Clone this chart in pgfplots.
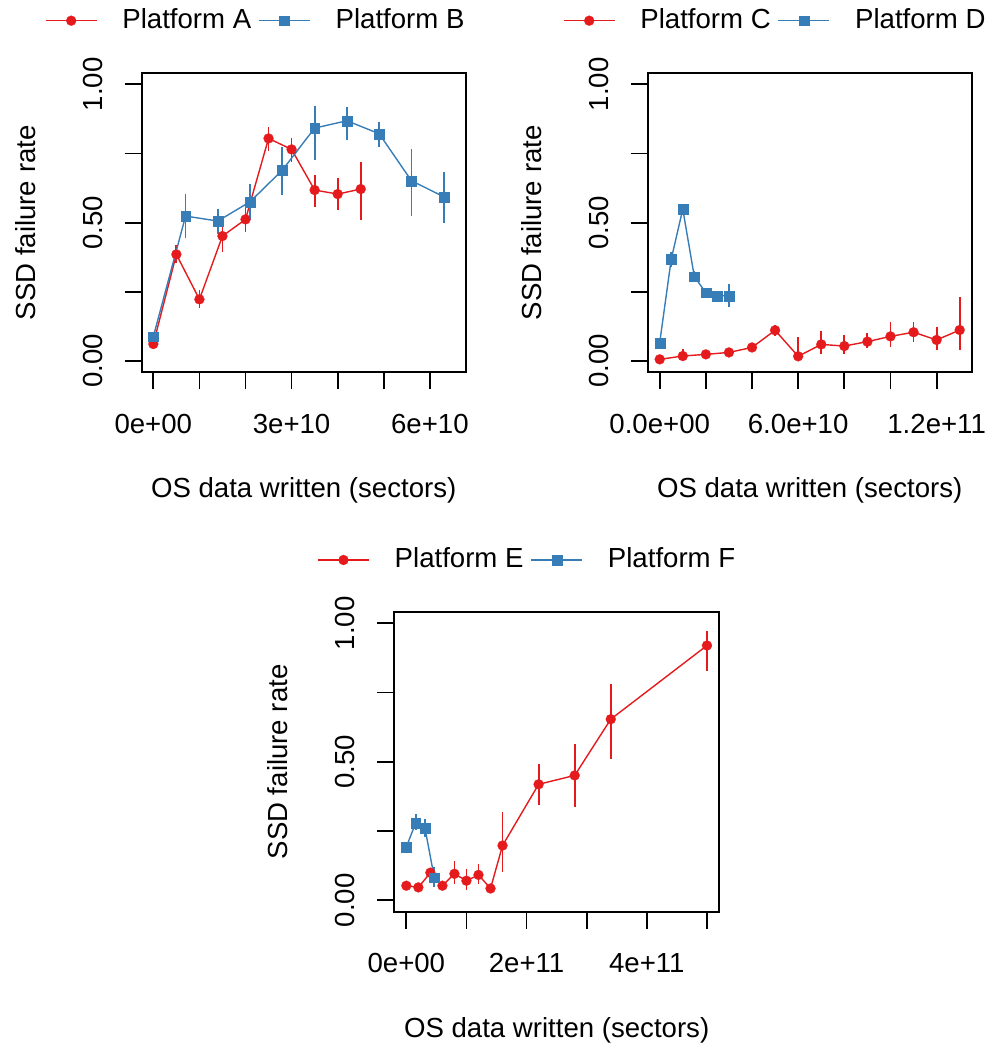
\documentclass[border=0pt]{standalone}
\usepackage{fontspec}
\setmainfont{Liberation Sans}
\usepackage{pgfplots}
\pgfplotsset{compat=1.18}
\definecolor{cred}{HTML}{E41A1C}
\definecolor{cblue}{HTML}{377EB8}
\pgfplotsset{
  rstyle/.style={
    scale only axis, width=162pt, height=149.5pt,
    anchor=south west,
    ymin=-0.0408, ymax=1.0398,
    scaled x ticks=false, scaled y ticks=false,
    ytick={0,0.25,0.5,0.75,1}, yticklabels={0.00,,0.50,,1.00},
    axis line style={line width=0.9pt},
    tick align=outside, xtick pos=left, ytick pos=left,
    major tick length=8.5pt,
    major tick style={black, line width=0.9pt},
    xticklabel style={anchor=base, inner sep=0pt},
    yticklabel style={rotate=90, anchor=base, inner sep=0pt},
    xticklabel shift=22pt, yticklabel shift=11.35pt,
    every axis x label/.style={at={(axis description cs:0.5,-0.4204)}, anchor=base, inner sep=0pt},
    every axis y label/.style={at={(axis description cs:-0.3293,0.5)}, rotate=90, anchor=base, inner sep=0pt},
    xlabel={OS data written (sectors)}, ylabel={SSD failure rate},
    legend columns=2,
    legend style={draw=none, fill=none, inner sep=0pt, outer sep=0pt, anchor=west,
      nodes={inner sep=0pt},
      /tikz/every odd column/.append style={column sep=12.5pt},
      /tikz/every even column/.append style={column sep=3.5pt}},
    legend image code/.code={\draw[mark repeat=2, mark phase=2, #1] plot coordinates {(0pt,0pt) (12.75pt,0pt) (25.5pt,0pt)};},
    error bars/y dir=both, error bars/y explicit,
    error bars/error mark=none,
  },
  sa/.style={color=cred, line width=0.7pt, mark=*, mark size=2.5pt,
    mark options={solid, fill=cred, draw=cred, line width=0.1pt},
    error bars/error bar style={line width=0.9pt, cred}},
  sb/.style={color=cblue, line width=0.7pt, mark=square*, mark size=2.45pt,
    mark options={solid, fill=cblue, draw=cblue, line width=0.1pt},
    error bars/error bar style={line width=0.9pt, cblue}},
}
\begin{document}
\fontsize{13.8}{16}\selectfont
\begin{tikzpicture}
\useasboundingbox (0,0) rectangle (493.5pt,522pt);
% ---------- Panel 1 ----------
\begin{axis}[rstyle, at={(70.85pt,335.85pt)},
  xmin=-0.252e10, xmax=6.777e10,
  xtick={0,1e10,2e10,3e10,4e10,5e10,6e10},
  xticklabels={0e+00,,,3e+10,,,6e+10},
  legend style={at={(axis description cs:-0.2985,1.1759)}}]
\addplot[sa] coordinates {
 (0,0.0614) += (0,0.010) -= (0,0.010)
 (0.5e10,0.3854) += (0,0.034) -= (0,0.033)
 (1.0e10,0.2228) += (0,0.033) -= (0,0.033)
 (1.5e10,0.4516) += (0,0.049) -= (0,0.057)
 (2.0e10,0.5118) += (0,0.046) -= (0,0.045)
 (2.5e10,0.8044) += (0,0.042) -= (0,0.045)
 (3.0e10,0.7647) += (0,0.040) -= (0,0.045)
 (3.5e10,0.6178) += (0,0.054) -= (0,0.060)
 (4.0e10,0.6033) += (0,0.057) -= (0,0.058)
 (4.5e10,0.6214) += (0,0.099) -= (0,0.112)
};
\addlegendentry{Platform A}
\addplot[sb] coordinates {
 (0,0.0879) += (0,0.010) -= (0,0.010)
 (0.7e10,0.5238) += (0,0.078) -= (0,0.081)
 (1.4e10,0.5058) += (0,0.043) -= (0,0.045)
 (2.1e10,0.5756) += (0,0.064) -= (0,0.066)
 (2.8e10,0.6900) += (0,0.082) -= (0,0.090)
 (3.5e10,0.8418) += (0,0.081) -= (0,0.116)
 (4.2e10,0.8683) += (0,0.050) -= (0,0.070)
 (4.9e10,0.8213) += (0,0.041) -= (0,0.049)
 (5.6e10,0.6515) += (0,0.113) -= (0,0.127)
 (6.3e10,0.5937) += (0,0.088) -= (0,0.094)
};
\addlegendentry{Platform B}
\end{axis}
% ---------- Panel 2 ----------
\begin{axis}[rstyle, at={(323.85pt,335.85pt)},
  xmin=-0.52e10, xmax=13.52e10,
  xtick={0,2e10,4e10,6e10,8e10,10e10,12e10},
  xticklabels={0.0e+00,,,6.0e+10,,,1.2e+11},
  legend style={at={(axis description cs:-0.2614,1.1759)}}]
\addplot[sa] coordinates {
 (0,0.006) += (0,0.005) -= (0,0.005)
 (1e10,0.018) += (0,0.025) -= (0,0.012)
 (2e10,0.024) += (0,0.010) -= (0,0.010)
 (3e10,0.031) += (0,0.010) -= (0,0.010)
 (4e10,0.049) += (0,0.012) -= (0,0.012)
 (5e10,0.111) += (0,0.020) -= (0,0.020)
 (6e10,0.017) += (0,0.071) -= (0,0.013)
 (7e10,0.060) += (0,0.049) -= (0,0.035)
 (8e10,0.054) += (0,0.040) -= (0,0.029)
 (9e10,0.070) += (0,0.030) -= (0,0.024)
 (10e10,0.089) += (0,0.052) -= (0,0.037)
 (11e10,0.104) += (0,0.036) -= (0,0.034)
 (12e10,0.076) += (0,0.046) -= (0,0.036)
 (13e10,0.112) += (0,0.120) -= (0,0.072)
};
\addlegendentry{Platform C}
\addplot[sb] coordinates {
 (0,0.066) += (0,0.010) -= (0,0.010)
 (0.5e10,0.368) += (0,0.027) -= (0,0.027)
 (1.0e10,0.549) += (0,0.010) -= (0,0.010)
 (1.5e10,0.305) += (0,0.020) -= (0,0.020)
 (2.0e10,0.247) += (0,0.013) -= (0,0.013)
 (2.5e10,0.236) += (0,0.010) -= (0,0.010)
 (3.0e10,0.236) += (0,0.042) -= (0,0.042)
};
\addlegendentry{Platform D}
\end{axis}
% ---------- Panel 3 ----------
\begin{axis}[rstyle, at={(197.15pt,66.15pt)}, width=162.35pt, height=149.7pt,
  xmin=-0.2e11, xmax=5.2e11,
  xtick={0,1e11,2e11,3e11,4e11,5e11},
  xticklabels={0e+00,,2e+11,,4e+11,},
  legend style={at={(axis description cs:-0.2371,1.1747)}}]
\addplot[sa] coordinates {
 (0,0.053) += (0,0.010) -= (0,0.010)
 (0.2e11,0.047) += (0,0.010) -= (0,0.010)
 (0.4e11,0.100) += (0,0.015) -= (0,0.015)
 (0.6e11,0.053) += (0,0.012) -= (0,0.012)
 (0.8e11,0.096) += (0,0.046) -= (0,0.036)
 (1.0e11,0.071) += (0,0.042) -= (0,0.032)
 (1.2e11,0.092) += (0,0.041) -= (0,0.032)
 (1.4e11,0.043) += (0,0.010) -= (0,0.010)
 (1.6e11,0.198) += (0,0.121) -= (0,0.096)
 (2.2e11,0.419) += (0,0.075) -= (0,0.076)
 (2.8e11,0.451) += (0,0.115) -= (0,0.114)
 (3.4e11,0.654) += (0,0.126) -= (0,0.142)
 (5.0e11,0.920) += (0,0.053) -= (0,0.091)
};
\addlegendentry{Platform E}
\addplot[sb] coordinates {
 (0,0.193) += (0,0.012) -= (0,0.012)
 (0.155e11,0.279) += (0,0.034) -= (0,0.026)
 (0.31e11,0.261) += (0,0.032) -= (0,0.034)
 (0.465e11,0.082) += (0,0.038) -= (0,0.034)
};
\addlegendentry{Platform F}
\end{axis}
\end{tikzpicture}
\end{document}
